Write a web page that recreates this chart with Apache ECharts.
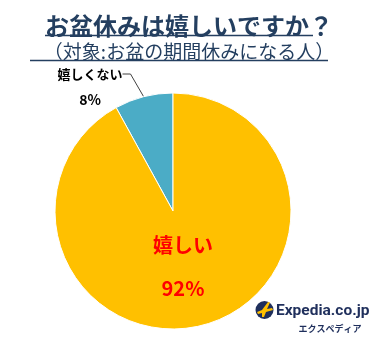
<!DOCTYPE html>
<html><head><meta charset="utf-8">
<script src="https://cdn.jsdelivr.net/npm/echarts@6/dist/echarts.min.js"></script>
<style>html,body{margin:0;padding:0;background:#fff}#c{width:378px;height:338px}</style>
</head><body><div id="c"></div>
<script>
const categories = ['嬉しくない', '嬉しい'];
const values = [8, 92];
const colors = ['#4BACC6', '#FFC000'];
const titleText = 'お盆休みは嬉しいですか？';
const subText = '（対象:お盆の期間休みになる人）';

const chart = echarts.init(document.getElementById('c'));
const FONT = '"Noto Sans CJK JP", sans-serif';
const navy = '#243F60';
const pieBase = {type: 'pie', center: [173, 211], radius: 118, startAngle: 90, clockwise: false};
chart.setOption({
  animation: false,
  title: [
    {text: titleText, left: 'center', top: 9, textStyle: {fontFamily: FONT, fontSize: 24, fontWeight: 'bold', color: navy}},
    {text: subText, left: 'center', top: 37, textStyle: {fontFamily: FONT, fontSize: 19, fontWeight: 'normal', color: navy}}
  ],
  graphic: [
    {type: 'line', shape: {x1: 45, y1: 35.5, x2: 313, y2: 35.5}, style: {stroke: navy, lineWidth: 1.5}},
    {type: 'line', shape: {x1: 30, y1: 60.5, x2: 328, y2: 60.5}, style: {stroke: navy, lineWidth: 1.5}},
    {type: 'circle', shape: {cx: 264.5, cy: 310, r: 9}, style: {fill: '#1F2F5C'}},
    {type: 'polygon', shape: {points: [[257,312],[262,310],[268,302],[270,302.5],[267,309],[272,308],[273,310],[266,312],[264,317],[262,317],[262,313],[258,314]]}, style: {fill: '#FFC000'}},
    {type: 'text', style: {text: 'Expedia.co.jp', x: 276, y: 311, fontFamily: 'Roboto, sans-serif', fontSize: 15.5, fontWeight: 'bold', fill: '#1F2F5C', verticalAlign: 'middle'}},
    {type: 'text', style: {text: 'エクスペディア', x: 330, y: 329, fontFamily: FONT, fontSize: 9, fontWeight: 'bold', fill: '#1F2F5C', align: 'center', verticalAlign: 'middle'}}
  ],
  series: [Object.assign({}, pieBase, {
    itemStyle: {borderColor: '#fff', borderWidth: 1},
    data: categories.map((n, i) => ({
      name: n, value: values[i],
      itemStyle: {color: colors[i]},
      label: i === 0 ? {
        show: true, position: 'outside', formatter: '{b}',
        fontFamily: FONT, fontSize: 13, fontWeight: 'bold', color: '#000'
      } : {
        show: true, position: 'inside',
        formatter: '{n|{b}}\n{p|{c}%}',
        rich: {
          n: {fontFamily: FONT, fontSize: 20, fontWeight: 'bold', color: '#FF0000', lineHeight: 43, align: 'center'},
          p: {fontFamily: FONT, fontSize: 20, fontWeight: 'bold', color: '#FF0000', lineHeight: 43, align: 'center'}
        }
      },
      labelLine: i === 0 ? {show: true, length: 10, length2: 8, lineStyle: {color: '#404040', width: 1}} : {show: false}
    })),
    labelLayout: function (p) {
      if (p.dataIndex === 0) return {x: 90, y: 74, align: 'center', verticalAlign: 'middle'};
      return {x: 183, y: 267, align: 'center', verticalAlign: 'middle'};
    }
  }), Object.assign({}, pieBase, {
    silent: true,
    itemStyle: {color: 'rgba(0,0,0,0)'},
    data: categories.map((n, i) => ({
      name: n, value: values[i],
      label: {show: i === 0, position: 'outside', formatter: '{c}%',
        fontFamily: FONT, fontSize: 14, fontWeight: 'bold', color: '#000'},
      labelLine: {show: false}
    })),
    labelLayout: function (p) {
      return {x: 90, y: 100, align: 'center', verticalAlign: 'middle'};
    }
  })]
});
</script></body></html>
